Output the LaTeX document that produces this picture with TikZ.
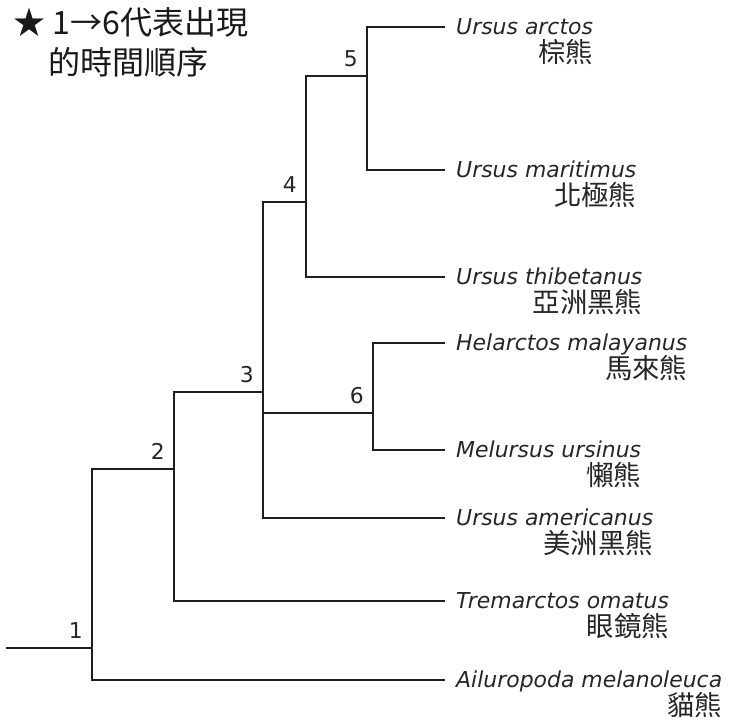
\documentclass[tikz,border=0pt]{standalone}
\usepackage{fontspec}
\newfontfamily\cjk{Noto Sans CJK TC}
\newfontfamily\latsans{DejaVu Sans}
\usetikzlibrary{positioning}
\begin{document}
\begin{tikzpicture}[x=0.025cm, y=-0.025cm, line join=miter, line cap=rect,
    branch/.style={line width=1.4pt, color=black!88},
    taxon/.style={inner sep=0pt, anchor=base west, text=black!85, font=\latsans\itshape\fontsize{15.6}{18}\selectfont},
    zhname/.style={inner sep=0pt, anchor=base east, text=black!85, font=\cjk\fontsize{19.5}{23}\selectfont},
    num/.style={inner sep=0pt, text=black!85, font=\latsans\fontsize{15.5}{18}\selectfont},
    title/.style={inner sep=0pt, anchor=base west, text=black!90, font=\cjk\fontsize{22.8}{27}\selectfont}]
  \def\tipx{444}
  \useasboundingbox (0,0) rectangle (739,720);
  % title
  \node[title] (title) at (13,35) {★ 1→6代表出現};
  \node[title] (title2) at (48,75) {的時間順序};
  % branching points
  \coordinate (root) at (7,648);
  \coordinate (n1) at (92,648);
  \coordinate (n2) at (174,469);
  \coordinate (n3) at (263,392);
  \coordinate (n4) at (306,202);
  \coordinate (n5) at (367,76);
  \coordinate (n6) at (373,413);
  % tips and species names
  \foreach \n/\y/\genus/\common in {arctos/27/Ursus arctos/棕熊,
      maritimus/170/Ursus maritimus/北極熊,
      thibetanus/277/Ursus thibetanus/亞洲黑熊,
      malayanus/343/Helarctos malayanus/馬來熊,
      ursinus/450/Melursus ursinus/懶熊,
      americanus/518/Ursus americanus/美洲黑熊,
      ornatus/601/Tremarctos omatus/眼鏡熊,
      melanoleuca/680/Ailuropoda melanoleuca/貓熊}{
    \coordinate (t-\n) at (\tipx,\y);
    \node[taxon] (\n) at ([xshift=8.5pt,yshift=-5.5pt]t-\n) {\genus};
    \node[zhname] (\n-zh) at ([yshift=-19.5pt]\n.base east) {\common};
  }
  % tree
  \draw[branch] (root) -- (n1);
  \draw[branch] (n1) |- (n2);
  \draw[branch] (n1) |- (t-melanoleuca);
  \draw[branch] (n2) |- (n3);
  \draw[branch] (n2) |- (t-ornatus);
  \draw[branch] (n3) |- (n4);
  \draw[branch] (n3) |- (n6);
  \draw[branch] (n3) |- (t-americanus);
  \draw[branch] (n4) |- (n5);
  \draw[branch] (n4) |- (t-thibetanus);
  \draw[branch] (n5) |- (t-arctos);
  \draw[branch] (n5) |- (t-maritimus);
  \draw[branch] (n6) |- (t-malayanus);
  \draw[branch] (n6) |- (t-ursinus);
  % order of appearance
  \foreach \k in {1,...,6}
    \node[num, above left=6.4pt and 6.4pt of n\k] (l\k) {\k};
\end{tikzpicture}
\end{document}
